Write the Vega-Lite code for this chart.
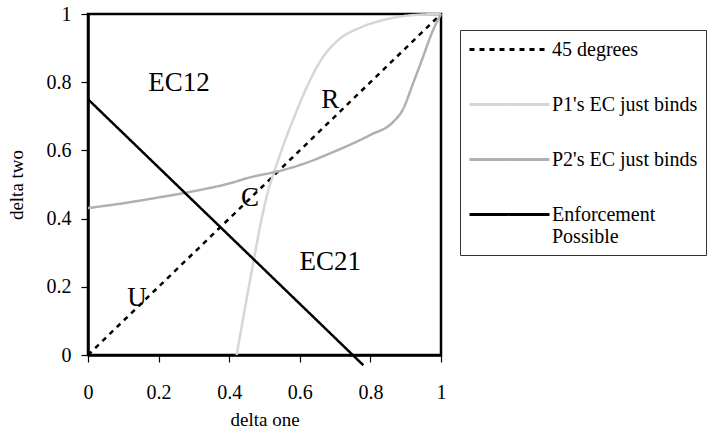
{
  "$schema": "https://vega.github.io/schema/vega-lite/v6.json",
  "width": 353,
  "height": 341,
  "autosize": "none",
  "padding": {"left": 88, "top": 14, "right": 268, "bottom": 78},
  "background": "white",
  "config": {
    "font": "Liberation Serif",
    "view": {"stroke": "#000", "strokeWidth": 2.5},
    "axis": {
      "grid": false,
      "domainColor": "#000",
      "domainWidth": 2.5,
      "tickColor": "#000",
      "tickWidth": 1.2,
      "tickSize": 7,
      "labelColor": "#000",
      "titleColor": "#000",
      "titleFontWeight": "normal"
    }
  },
  "datasets": {
    "curves": [
      {"series": "45 degrees", "ord": 0, "x": 0, "y": 0},
      {"series": "45 degrees", "ord": 1, "x": 0.1, "y": 0.1},
      {"series": "45 degrees", "ord": 2, "x": 0.2, "y": 0.2},
      {"series": "45 degrees", "ord": 3, "x": 0.3, "y": 0.3},
      {"series": "45 degrees", "ord": 4, "x": 0.4, "y": 0.4},
      {"series": "45 degrees", "ord": 5, "x": 0.5, "y": 0.5},
      {"series": "45 degrees", "ord": 6, "x": 0.6, "y": 0.6},
      {"series": "45 degrees", "ord": 7, "x": 0.7, "y": 0.7},
      {"series": "45 degrees", "ord": 8, "x": 0.8, "y": 0.8},
      {"series": "45 degrees", "ord": 9, "x": 0.9, "y": 0.9},
      {"series": "45 degrees", "ord": 10, "x": 1, "y": 1},
      {"series": "P1's EC just binds", "ord": 0, "x": 0.421, "y": 0},
      {"series": "P1's EC just binds", "ord": 1, "x": 0.44, "y": 0.11},
      {"series": "P1's EC just binds", "ord": 2, "x": 0.468, "y": 0.27},
      {"series": "P1's EC just binds", "ord": 3, "x": 0.49, "y": 0.39},
      {"series": "P1's EC just binds", "ord": 4, "x": 0.51, "y": 0.48},
      {"series": "P1's EC just binds", "ord": 5, "x": 0.53, "y": 0.545},
      {"series": "P1's EC just binds", "ord": 6, "x": 0.555, "y": 0.62},
      {"series": "P1's EC just binds", "ord": 7, "x": 0.581, "y": 0.69},
      {"series": "P1's EC just binds", "ord": 8, "x": 0.62, "y": 0.786},
      {"series": "P1's EC just binds", "ord": 9, "x": 0.657, "y": 0.86},
      {"series": "P1's EC just binds", "ord": 10, "x": 0.705, "y": 0.92},
      {"series": "P1's EC just binds", "ord": 11, "x": 0.771, "y": 0.96},
      {"series": "P1's EC just binds", "ord": 12, "x": 0.836, "y": 0.982},
      {"series": "P1's EC just binds", "ord": 13, "x": 0.912, "y": 0.996},
      {"series": "P1's EC just binds", "ord": 14, "x": 1, "y": 1},
      {"series": "P2's EC just binds", "ord": 0, "x": 0, "y": 0.431},
      {"series": "P2's EC just binds", "ord": 1, "x": 0.1, "y": 0.445},
      {"series": "P2's EC just binds", "ord": 2, "x": 0.2, "y": 0.462},
      {"series": "P2's EC just binds", "ord": 3, "x": 0.317, "y": 0.484},
      {"series": "P2's EC just binds", "ord": 4, "x": 0.4, "y": 0.503},
      {"series": "P2's EC just binds", "ord": 5, "x": 0.459, "y": 0.521},
      {"series": "P2's EC just binds", "ord": 6, "x": 0.535, "y": 0.538},
      {"series": "P2's EC just binds", "ord": 7, "x": 0.6, "y": 0.557},
      {"series": "P2's EC just binds", "ord": 8, "x": 0.694, "y": 0.595},
      {"series": "P2's EC just binds", "ord": 9, "x": 0.799, "y": 0.645},
      {"series": "P2's EC just binds", "ord": 10, "x": 0.864, "y": 0.683},
      {"series": "P2's EC just binds", "ord": 11, "x": 0.892, "y": 0.72},
      {"series": "P2's EC just binds", "ord": 12, "x": 0.921, "y": 0.797},
      {"series": "P2's EC just binds", "ord": 13, "x": 0.949, "y": 0.874},
      {"series": "P2's EC just binds", "ord": 14, "x": 0.974, "y": 0.944},
      {"series": "P2's EC just binds", "ord": 15, "x": 1, "y": 1},
      {"series": "Enforcement Possible", "ord": 0, "x": 0, "y": 0.75},
      {"series": "Enforcement Possible", "ord": 1, "x": 0.78, "y": -0.03}
    ],
    "labels": [
      {"label": "EC12", "x": 0.258, "y": 0.797},
      {"label": "R", "x": 0.686, "y": 0.748},
      {"label": "C", "x": 0.459, "y": 0.46},
      {"label": "U", "x": 0.139, "y": 0.167},
      {"label": "EC21", "x": 0.686, "y": 0.273}
    ]
  },
  "layer": [
    {
      "data": {"name": "curves"},
      "mark": {"type": "line", "clip": false, "strokeWidth": 2.5, "interpolate": "monotone"},
      "encoding": {
        "x": {
          "field": "x", "type": "quantitative",
          "scale": {"domain": [0, 1], "nice": false},
          "axis": {
            "title": "delta one",
            "values": [0, 0.1, 0.2, 0.3, 0.4, 0.5, 0.6, 0.7, 0.8, 0.9, 1],
            "format": ".1~f",
            "labelExpr": "round(datum.value * 10) % 2 == 0 ? datum.label : ''",
            "labelFlush": false,
            "labelOverlap": false,
            "labelFont": "Liberation Serif",
            "labelFontSize": 20,
            "titleFont": "Liberation Serif",
            "titleFontSize": 19,
            "titleFontWeight": "normal",
            "labelPadding": 20,
            "titlePadding": 8
          }
        },
        "y": {
          "field": "y", "type": "quantitative",
          "scale": {"domain": [0, 1], "nice": false},
          "axis": {
            "title": "delta two",
            "values": [0, 0.1, 0.2, 0.3, 0.4, 0.5, 0.6, 0.7, 0.8, 0.9, 1],
            "format": ".1~f",
            "labelExpr": "round(datum.value * 10) % 2 == 0 ? datum.label : ''",
            "labelFlush": false,
            "labelOverlap": false,
            "labelFont": "Liberation Serif",
            "labelFontSize": 20,
            "titleFont": "Liberation Serif",
            "titleFontSize": 19,
            "titleFontWeight": "normal",
            "labelPadding": 10,
            "titlePadding": 20
          }
        },
        "order": {"field": "ord", "type": "quantitative"},
        "color": {
          "field": "series", "type": "nominal",
          "scale": {
            "domain": ["45 degrees", "P1's EC just binds", "P2's EC just binds", "Enforcement Possible"],
            "range": ["#000000", "#d6d6d6", "#b0b0b0", "#000000"]
          },
          "legend": {
            "title": null,
            "orient": "none",
            "legendX": 372,
            "legendY": 16,
            "strokeColor": "#333",
            "fillColor": "white",
            "padding": 8,
            "symbolType": "M-4,0H4",
            "symbolSize": 400,
            "symbolStrokeWidth": 3,
            "symbolOffset": 30,
            "labelOffset": 31,
            "rowPadding": 33,
            "labelLimit": 300,
            "labelFont": "Liberation Serif",
            "labelFontSize": 20,
            "labelColor": "#000",
            "labelExpr": "datum.label == 'Enforcement Possible' ? ['Enforcement', 'Possible'] : datum.label"
          }
        },
        "strokeDash": {
          "field": "series", "type": "nominal",
          "scale": {
            "domain": ["45 degrees", "P1's EC just binds", "P2's EC just binds", "Enforcement Possible"],
            "range": [[5, 5], [1, 0], [1, 0], [1, 0]]
          },
          "legend": null
        }
      }
    },
    {
      "data": {"name": "labels"},
      "mark": {"type": "text", "font": "Liberation Serif", "fontSize": 27, "color": "#000", "baseline": "middle", "align": "center"},
      "encoding": {
        "x": {"field": "x", "type": "quantitative"},
        "y": {"field": "y", "type": "quantitative"},
        "text": {"field": "label"}
      }
    }
  ]
}
